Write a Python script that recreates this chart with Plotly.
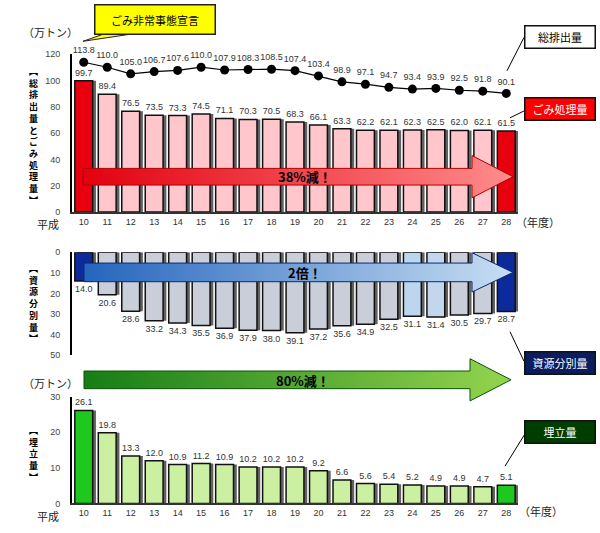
import plotly.graph_objects as go

# 平成10〜28年度
years = list(range(10, 29))

# 総排出量 (万トン)
total_waste = [113.8, 110.0, 105.0, 106.7, 107.6, 110.0, 107.9, 108.3, 108.5, 107.4,
               103.4, 98.9, 97.1, 94.7, 93.4, 93.9, 92.5, 91.8, 90.1]
# ごみ処理量
treated = [99.7, 89.4, 76.5, 73.5, 73.3, 74.5, 71.1, 70.3, 70.5, 68.3,
           66.1, 63.3, 62.2, 62.1, 62.3, 62.5, 62.0, 62.1, 61.5]
# 資源分別量
recycled = [14.0, 20.6, 28.6, 33.2, 34.3, 35.5, 36.9, 37.9, 38.0, 39.1,
            37.2, 35.6, 34.9, 32.5, 31.1, 31.4, 30.5, 29.7, 28.7]
# 埋立量
landfill = [26.1, 19.8, 13.3, 12.0, 10.9, 11.2, 10.9, 10.2, 10.2, 10.2,
            9.2, 6.6, 5.6, 5.4, 5.2, 4.9, 4.9, 4.7, 5.1]

W, H = 600, 533
JP = "Noto Sans CJK JP"
NUM = "Liberation Sans"


def px(x):
    return x / W


def py(y):
    return 1 - y / H


def edge_colors(n, mid, ends):
    cols = [mid] * n
    cols[0] = ends
    cols[-1] = ends
    return cols


fig = go.Figure()

BW = 0.76


def add_bars(vals, colors, xa, ya):
    # shadow
    fig.add_trace(go.Bar(
        x=years, y=vals, width=BW, offset=-BW / 2 + 0.14,
        marker=dict(color="rgba(30,30,30,0.7)", line=dict(width=0)),
        xaxis=xa, yaxis=ya, hoverinfo="skip", showlegend=False,
    ))
    fig.add_trace(go.Bar(
        x=years, y=vals, width=BW, offset=-BW / 2,
        marker=dict(color=colors, line=dict(color="#111", width=1.5)),
        texttemplate="%{y:.1f}", textposition="outside", textangle=0,
        constraintext="none", cliponaxis=False,
        textfont=dict(family=NUM, size=9, color="#333"),
        xaxis=xa, yaxis=ya, showlegend=False,
    ))


add_bars(treated, edge_colors(len(years), "#ffc6cc", "#e8000f"), "x", "y")

mid_cols = edge_colors(len(years), "#c9ced9", "#0c2a9c")
mid_cols[14] = "#bcd6ee"
mid_cols[15] = "#c2d6ec"
add_bars(recycled, mid_cols, "x2", "y2")

add_bars(landfill, edge_colors(len(years), "#ccf0a2", "#1ec81e"), "x3", "y3")

fig.add_trace(go.Scatter(
    x=years, y=total_waste, mode="lines+markers+text",
    text=[f"{v:.1f}" for v in total_waste], textposition="top center",
    textfont=dict(family=NUM, size=9, color="#333"),
    line=dict(color="#000", width=1.2), marker=dict(color="#000", size=9),
    cliponaxis=False, showlegend=False, xaxis="x", yaxis="y",
))


# gradient arrows (decoration, pixel coordinates on an overlay axis)
def arrow(x0, x1, xh, yc, body_h, head_h, c0, c1, border):
    bt, bb = yc - body_h / 2, yc + body_h / 2
    ht, hb = yc - head_h / 2, yc + head_h / 2
    xs = [x0, xh, xh, x1, xh, xh, x0, x0]
    ys = [bt, bt, ht, yc, hb, bb, bb, bt]
    fig.add_trace(go.Scatter(
        x=xs, y=ys, mode="lines", fill="toself",
        fillgradient=dict(type="horizontal", colorscale=[[0, c0], [1, c1]]),
        line=dict(color=border, width=1), hoverinfo="skip",
        showlegend=False, xaxis="x4", yaxis="y4",
    ))


arrow(83, 513, 472, 175, 17, 43, "#e3000f", "#ff8c8c", "#b00000")
arrow(84, 513, 472, 272.5, 19, 40, "#2465bd", "#c8def3", "#0c2a70")
arrow(84, 511, 470, 382, 18, 43, "#167d16", "#94d44e", "#0b500b")

dom_x = [px(72), px(518)]
axis_common = dict(showgrid=False, zeroline=False, fixedrange=True)
ytick = dict(family=NUM, size=9, color="#444")

fig.update_layout(
    width=W, height=H, margin=dict(l=0, r=0, t=0, b=0),
    paper_bgcolor="white", plot_bgcolor="rgba(0,0,0,0)",
    barmode="overlay", showlegend=False,
    xaxis=dict(domain=dom_x, range=[9.5, 28.5], tickvals=years,
               ticktext=[str(y) for y in years], anchor="y",
               showline=True, linecolor="#333", linewidth=2, ticks="",
               tickfont=dict(family=NUM, size=9, color="#333"), **axis_common),
    yaxis=dict(domain=[py(211), py(50)], range=[0, 120], dtick=20, anchor="x",
               showline=True, linecolor="#000", linewidth=2, ticks="",
               ticklabelstandoff=8, tickfont=ytick, **axis_common),
    xaxis2=dict(domain=dom_x, range=[9.5, 28.5], anchor="y2",
                showticklabels=False, showline=False, ticks="", **axis_common),
    yaxis2=dict(domain=[py(357), py(252)], range=[50, 0], dtick=10, anchor="x2",
                showline=True, linecolor="#000", linewidth=2, ticks="",
                ticklabelstandoff=8, tickfont=ytick, **axis_common),
    xaxis3=dict(domain=dom_x, range=[9.5, 28.5], tickvals=years,
                ticktext=[str(y) for y in years], anchor="y3",
                showline=True, linecolor="#333", linewidth=2, ticks="",
                tickfont=dict(family=NUM, size=9, color="#333"), **axis_common),
    yaxis3=dict(domain=[py(508), py(399)], range=[0, 30], dtick=10, anchor="x3",
                showline=True, linecolor="#000", linewidth=2, ticks="",
                ticklabelstandoff=8, tickfont=ytick, **axis_common),
    xaxis4=dict(domain=[0, 1], range=[0, W], anchor="y4", visible=False, **axis_common),
    yaxis4=dict(domain=[0, 1], range=[H, 0], anchor="x4", visible=False, **axis_common),
)

anns = []


def txt(x, y, s, size=11, color="#000", bold=False, **kw):
    if bold:
        s = f"<b>{s}</b>"
    anns.append(dict(x=px(x), y=py(y), xref="paper", yref="paper", text=s,
                     showarrow=False, xanchor="center", yanchor="middle",
                     font=dict(family=JP, size=size, color=color), **kw))


def box(x, y, s, bg, fg, w=67, h=19):
    txt(x, y, s, size=11, color=fg, bgcolor=bg, bordercolor="#111",
        borderwidth=1.5, width=w, height=h)


# arrow texts
txt(305, 175, "38%減！", size=13, bold=True)
txt(305, 273, "2倍！", size=13, bold=True)
txt(303, 383, "80%減！", size=13, bold=True)

# unit / axis labels
txt(50, 28, "（万トン）", size=11, color="#222")
txt(50, 385, "（万トン）", size=11, color="#222")
txt(48, 223, "平成", size=11, color="#222")
txt(48, 521, "平成", size=11, color="#222")
txt(538, 221, "（年度）", size=11, color="#222")
txt(541, 516, "（年度）", size=11, color="#222")


# vertical axis titles (stacked glyphs)
def vtitle(x, y, label):
    chars = ["︻"] + list(label) + ["︼"]
    txt(x, y, "<br>".join(chars), size=9, bold=True, borderpad=0)


vtitle(33, 133, "総排出量とごみ処理量")
vtitle(33, 304, "資源分別量")
vtitle(33, 458, "埋立量")

# series labels on the right
box(559.5, 32.5, "総排出量", "white", "#000")
box(559.5, 106, "ごみ処理量", "#ff0000", "white")
box(560, 365, "資源分別量", "#0b1d5e", "white")
box(560, 435, "埋立量", "#003d00", "white")

# callout
txt(155, 15, "ごみ非常事態宣言", size=11, color="#000", bgcolor="#ffff00",
    bordercolor="#222", borderwidth=1.5, width=117, height=26)

fig.update_layout(annotations=anns)

shapes = []


def seg(x0, y0, x1, y1, color="#000", width=1):
    shapes.append(dict(type="line", xref="paper", yref="paper",
                       x0=px(x0), y0=py(y0), x1=px(x1), y1=py(y1),
                       line=dict(color=color, width=width)))


seg(524, 33, 507, 67)
seg(524, 108, 510, 115)
seg(524, 363, 510, 333)
seg(525, 437, 505, 470)

# callout tail
shapes.append(dict(
    type="path", xref="paper", yref="paper",
    path=f"M {px(108)},{py(28)} L {px(83)},{py(37)} L {px(142)},{py(28)} Z",
    fillcolor="#ffff00", line=dict(color="#222", width=1),
))
fig.update_layout(shapes=shapes)

fig.write_html("out.html", config={"displayModeBar": False},
               post_script="document.body.style.margin='0px';")
